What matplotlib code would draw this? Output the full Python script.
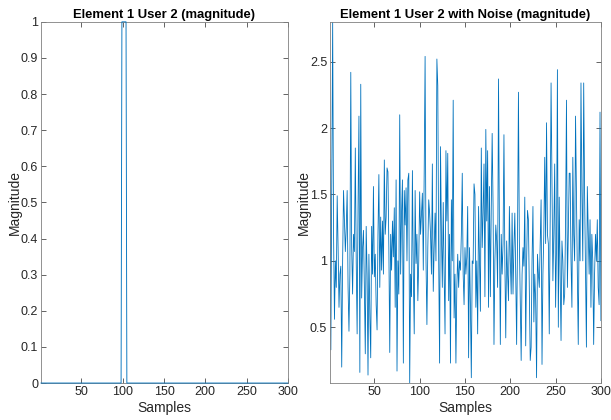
import matplotlib
matplotlib.use("Agg")
import matplotlib.pyplot as plt
import numpy as np

# left panel: clean pulse (sample numbers 1..300)
n_samples = 300
pulse_first = 99
pulse_last = 104
clean = [0] * (pulse_first - 1) + [1] * (pulse_last - pulse_first + 1) + [0] * (n_samples - pulse_last)

# right panel: noisy magnitude
noisy = [
    1.76, 0.33, 1.6, 2.8, 1.2, 0.56, 1.0, 0.8, 1.49, 1.1,
    0.65, 0.9, 0.96, 0.2, 1.0, 1.53, 1.3, 1.07, 1.25, 1.53,
    0.8, 0.47, 0.9, 2.42, 1.1, 0.75, 1.2, 1.07, 1.85, 1.0,
    0.45, 1.4, 2.09, 0.16, 2.33, 0.72, 1.1, 1.23, 0.8, 0.3,
    1.26, 0.9, 0.14, 1.05, 0.6, 0.27, 1.26, 0.9, 1.56, 0.88,
    1.05, 0.67, 0.48, 1.2, 1.65, 0.8, 1.33, 0.93, 1.3, 0.9,
    1.76, 1.2, 1.33, 1.70, 1.67, 1.1, 0.31, 1.2, 0.93, 1.3,
    1.03, 1.4, 0.65, 1.61, 0.17, 1.0, 0.75, 2.1, 0.9, 1.36,
    1.61, 0.23, 1.53, 1.27, 1.55, 1.0, 1.61, 1.66, 0.08, 0.9,
    0.73, 1.68, 0.9, 0.45, 1.53, 0.98, 1.2, 0.7, 1.0, 1.52,
    1.2, 1.36, 1.51, 0.93, 1.66, 2.54, 1.0, 0.52, 1.1, 1.46,
    1.36, 1.2, 0.9, 1.73, 0.77, 1.1, 1.36, 1.0, 2.52, 2.32,
    1.0, 0.23, 1.86, 1.2, 0.8, 1.44, 0.9, 0.45, 1.83, 1.3,
    1.81, 0.7, 1.2, 0.23, 1.46, 1.0, 2.21, 0.57, 0.9, 0.23,
    0.8, 1.05, 0.8, 1.0, 0.93, 1.2, 1.66, 0.9, 0.67, 1.1,
    0.9, 1.03, 1.41, 0.27, 1.1, 0.67, 0.12, 1.0, 0.98, 1.58,
    1.5, 0.65, 1.0, 0.45, 1.41, 1.0, 0.62, 1.85, 1.1, 1.36,
    1.73, 0.73, 1.99, 1.3, 1.83, 0.65, 1.56, 0.73, 1.4, 1.96,
    1.41, 0.37, 1.0, 1.27, 1.15, 0.8, 2.37, 1.25, 0.37, 1.2,
    0.9, 1.13, 1.95, 1.0, 0.42, 1.15, 0.9, 0.7, 1.41, 1.0,
    0.75, 1.36, 0.75, 1.1, 1.36, 0.9, 0.37, 1.2, 2.27, 1.15,
    0.7, 0.25, 0.9, 1.1, 0.96, 1.48, 0.36, 1.0, 1.38, 1.31,
    0.8, 0.25, 0.35, 1.0, 1.41, 0.54, 0.9, 0.7, 0.12, 1.05,
    0.9, 0.8, 1.15, 1.46, 0.22, 0.9, 1.2, 1.78, 1.13, 2.04,
    1.2, 1.13, 0.45, 1.3, 2.34, 1.63, 0.85, 1.2, 1.73, 0.65,
    1.1, 2.44, 0.5, 1.48, 0.9, 0.4, 1.15, 1.0, 0.67, 0.75,
    1.3, 2.21, 0.8, 1.2, 1.66, 1.66, 1.0, 0.65, 1.78, 1.2,
    1.0, 2.09, 1.46, 0.9, 0.37, 1.31, 1.0, 2.34, 1.53, 1.0,
    2.34, 1.5, 0.9, 0.35, 1.56, 1.23, 0.9, 1.31, 0.65, 1.2,
    1.0, 0.37, 0.9, 1.2, 1.0, 1.31, 0.8, 0.67, 2.12, 0.55,
]

x_ticks = [50, 100, 150, 200, 250, 300]
left_yticks = [0, 0.1, 0.2, 0.3, 0.4, 0.5, 0.6, 0.7, 0.8, 0.9, 1]
right_yticks = [0.5, 1, 1.5, 2, 2.5]

plt.rcParams['font.family'] = ['Liberation Sans', 'DejaVu Sans']
line_color = '#0072BD'
axis_color = '#262626'

fig = plt.figure(figsize=(6.11, 4.20), dpi=100)
ax1 = fig.add_axes([0.0671, 0.088, 0.404, 0.860])
ax2 = fig.add_axes([0.540, 0.088, 0.4435, 0.860])

samples = np.arange(1, n_samples + 1)


def style(ax, yticks):
    ax.set_xlim(1, n_samples)
    ax.set_xticks(x_ticks)
    ax.set_xticklabels([str(t) for t in x_ticks])
    ax.set_yticks(yticks)
    ax.set_yticklabels(['%g' % t for t in yticks])
    ax.tick_params(direction='in', top=True, right=True, length=3.5, width=0.5,
                   labelsize=9, colors=axis_color, pad=2)
    for s in ax.spines.values():
        s.set_linewidth(0.6)
        s.set_color('#808080')
    ax.set_xlabel('Samples', fontsize=10, color=axis_color, labelpad=2)
    ax.set_ylabel('Magnitude', fontsize=10, color=axis_color, labelpad=-1)


ax1.plot(samples, clean, color=line_color, linewidth=0.65, clip_on=False, zorder=3)
ax1.set_ylim(0, 1)
style(ax1, left_yticks)
ax1.set_title('Element 1 User 2 (magnitude)', fontsize=9.4, fontweight='bold', pad=3)

ax2.plot(samples, noisy, color=line_color, linewidth=0.6)
ax2.set_ylim(min(noisy), max(noisy))
style(ax2, right_yticks)
ax2.set_title('Element 1 User 2 with Noise (magnitude)', fontsize=9.4, fontweight='bold', pad=3)

fig.savefig('out.png', dpi=100)
